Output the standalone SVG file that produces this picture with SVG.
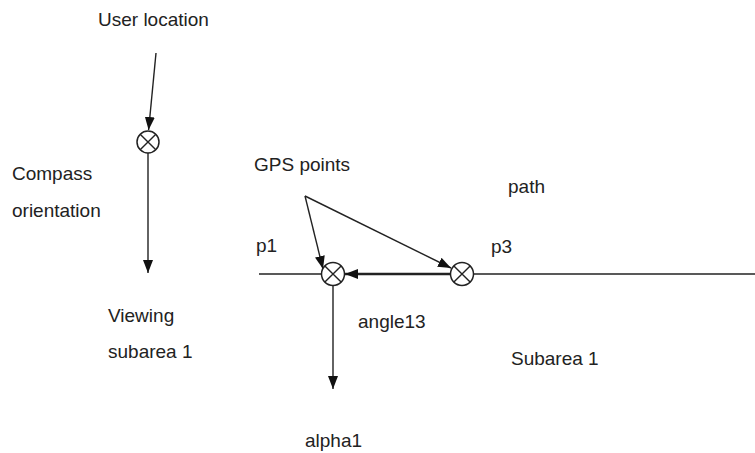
<svg xmlns="http://www.w3.org/2000/svg" width="755" height="453" viewBox="0 0 755 453">
<style>
text{font-family:"Liberation Sans",Arial,sans-serif;font-size:19px;fill:#222}
.ln{stroke:#222;stroke-width:1.4;fill:none}
.th{stroke:#222;stroke-width:2.6;fill:none}
.node circle{fill:#fff;stroke:#222;stroke-width:1.5}
.node path{stroke:#222;stroke-width:1.4}
</style>
<defs>
<marker id="ah" markerWidth="13" markerHeight="10" refX="13" refY="5" orient="auto" markerUnits="userSpaceOnUse">
<path d="M0,0 L13,5 L0,10 Z" fill="#111"/>
</marker>
</defs>
<g id="connectors">
<line class="ln" x1="259" y1="274" x2="321" y2="274"/>
<line class="ln" x1="474" y1="274" x2="755" y2="274"/>
<line class="ln" x1="156" y1="53" x2="148.6" y2="130" marker-end="url(#ah)"/>
<line class="ln" x1="148" y1="153" x2="148" y2="273" marker-end="url(#ah)"/>
<line class="ln" x1="305" y1="196" x2="323" y2="269" marker-end="url(#ah)"/>
<line class="ln" x1="305" y1="196" x2="451" y2="268" marker-end="url(#ah)"/>
<line class="th" x1="450" y1="274" x2="345" y2="274" marker-end="url(#ah)"/>
<line class="ln" x1="333" y1="286" x2="333" y2="389" marker-end="url(#ah)"/>
</g>
<g id="user-node" class="node">
<circle cx="148" cy="142" r="11"/>
<path d="M140.2,134.2 L155.8,149.8 M155.8,134.2 L140.2,149.8"/>
</g>
<g id="p1-node" class="node">
<circle cx="333" cy="274" r="11.5"/>
<path d="M324.9,265.9 L341.1,282.1 M341.1,265.9 L324.9,282.1"/>
</g>
<g id="p3-node" class="node">
<circle cx="462" cy="274" r="11.5"/>
<path d="M453.9,265.9 L470.1,282.1 M470.1,265.9 L453.9,282.1"/>
</g>
<g id="labels">
<text x="98" y="26">User location</text>
<text x="12" y="180">Compass</text>
<text x="12" y="217">orientation</text>
<text x="254" y="171">GPS points</text>
<text x="508" y="193">path</text>
<text x="256" y="252">p1</text>
<text x="491" y="253">p3</text>
<text x="108" y="322">Viewing</text>
<text x="108" y="358">subarea 1</text>
<text x="358" y="328">angle13</text>
<text x="511" y="365">Subarea 1</text>
<text x="305" y="447">alpha1</text>
</g>
</svg>
